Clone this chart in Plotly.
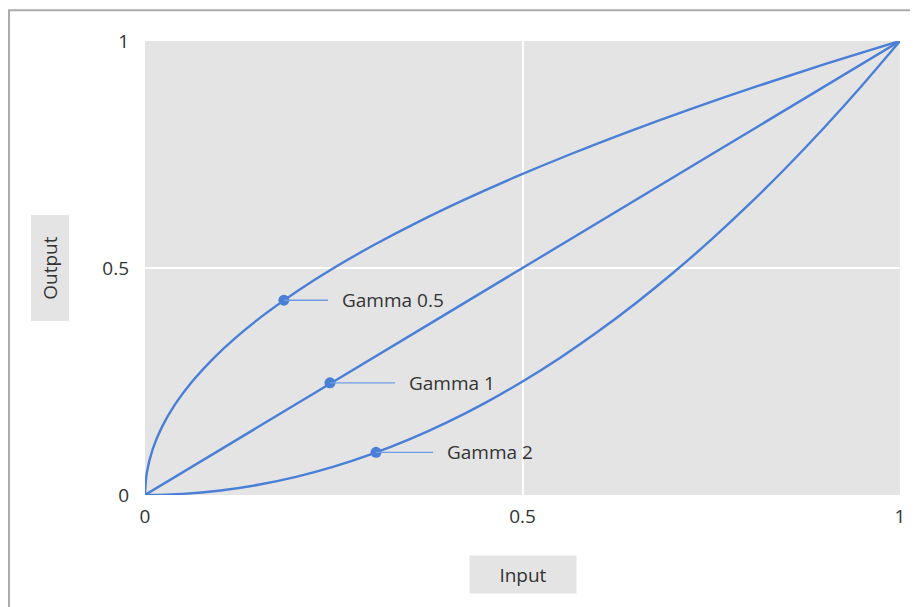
import plotly.graph_objects as go

# ---- data ----
gamma05_x = [0, 0.0025, 0.01, 0.0225, 0.04, 0.0625, 0.09, 0.1225, 0.16, 0.2025, 0.25,
             0.3025, 0.36, 0.4225, 0.49, 0.5625, 0.64, 0.7225, 0.81, 0.9025, 1.0]
gamma05_y = [0, 0.05, 0.10, 0.15, 0.20, 0.25, 0.30, 0.35, 0.40, 0.45, 0.50,
             0.55, 0.60, 0.65, 0.70, 0.75, 0.80, 0.85, 0.90, 0.95, 1.0]

gamma1_x = [0, 0.25, 0.5, 0.75, 1.0]
gamma1_y = [0, 0.25, 0.5, 0.75, 1.0]

gamma2_x = [0, 0.05, 0.10, 0.15, 0.20, 0.25, 0.30, 0.35, 0.40, 0.45, 0.50,
            0.55, 0.60, 0.65, 0.70, 0.75, 0.80, 0.85, 0.90, 0.95, 1.0]
gamma2_y = [0, 0.0025, 0.01, 0.0225, 0.04, 0.0625, 0.09, 0.1225, 0.16, 0.2025, 0.25,
            0.3025, 0.36, 0.4225, 0.49, 0.5625, 0.64, 0.7225, 0.81, 0.9025, 1.0]

marker_x = [0.184, 0.245, 0.306]
marker_y = [0.429, 0.247, 0.094]
marker_labels = ["Gamma 0.5", "Gamma 1", "Gamma 2"]

tick_vals = [0, 0.5, 1]
tick_text = ["0", "0.5", "1"]

# ---- styling ----
BLUE = "#4a7fd8"
LEADER = "#6f9be2"
FONT = "Open Sans"
TXT = "#333333"
FS = 19
label_offsets = [56, 77, 69]

fig = go.Figure()
for xs, ys in [(gamma05_x, gamma05_y), (gamma1_x, gamma1_y), (gamma2_x, gamma2_y)]:
    fig.add_trace(go.Scatter(x=xs, y=ys, mode="lines", line=dict(color=BLUE, width=2.4, shape="spline"),
                             showlegend=False, hoverinfo="skip"))

fig.add_trace(go.Scatter(x=marker_x, y=marker_y, mode="markers",
                         marker=dict(color=BLUE, size=11), showlegend=False))

for mx, my, lab, off in zip(marker_x, marker_y, marker_labels, label_offsets):
    fig.add_annotation(x=mx, y=my, xref="x", yref="y", text=lab, showarrow=True,
                       arrowhead=0, arrowwidth=1.3, arrowcolor=LEADER, ax=off, ay=0,
                       xanchor="left", yanchor="middle", standoff=0, startstandoff=12,
                       font=dict(family=FONT, size=FS, color=TXT))

# axis title boxes
fig.add_annotation(x=0.5, y=-0.175, xref="paper", yref="paper", text="Input", showarrow=False,
                   xanchor="center", yanchor="middle",
                   bgcolor="#e4e4e4", width=106, height=37, borderpad=0,
                   font=dict(family=FONT, size=FS, color=TXT))
fig.add_annotation(x=-0.1265, y=0.5, xref="paper", yref="paper", text="Output", showarrow=False,
                   xanchor="center", yanchor="middle",
                   textangle=-90, bgcolor="#e4e4e4", width=105, height=37, borderpad=0,
                   font=dict(family=FONT, size=FS, color=TXT))

# outer frame
fig.add_shape(type="rect", xref="paper", yref="paper", x0=-0.1801, x1=1.04, y0=-0.28, y1=1.068,
              line=dict(color="#aaaaaa", width=2), layer="below")

fig.update_layout(
    width=918, height=607,
    margin=dict(l=137, r=26, t=33, b=120),
    paper_bgcolor="white", plot_bgcolor="#e4e4e4",
    font=dict(family=FONT, size=FS, color=TXT),
)
fig.update_xaxes(range=[0, 1], tickvals=tick_vals, ticktext=tick_text, showgrid=True,
                 gridcolor="white", gridwidth=2, zeroline=False, showline=False,
                 ticklabelstandoff=8, fixedrange=True)
fig.update_yaxes(range=[0, 1], tickvals=tick_vals, ticktext=tick_text, showgrid=True,
                 gridcolor="white", gridwidth=2, zeroline=False, showline=False,
                 ticklabelstandoff=15, fixedrange=True)

fig.write_html("out.html", config={"displayModeBar": False})
